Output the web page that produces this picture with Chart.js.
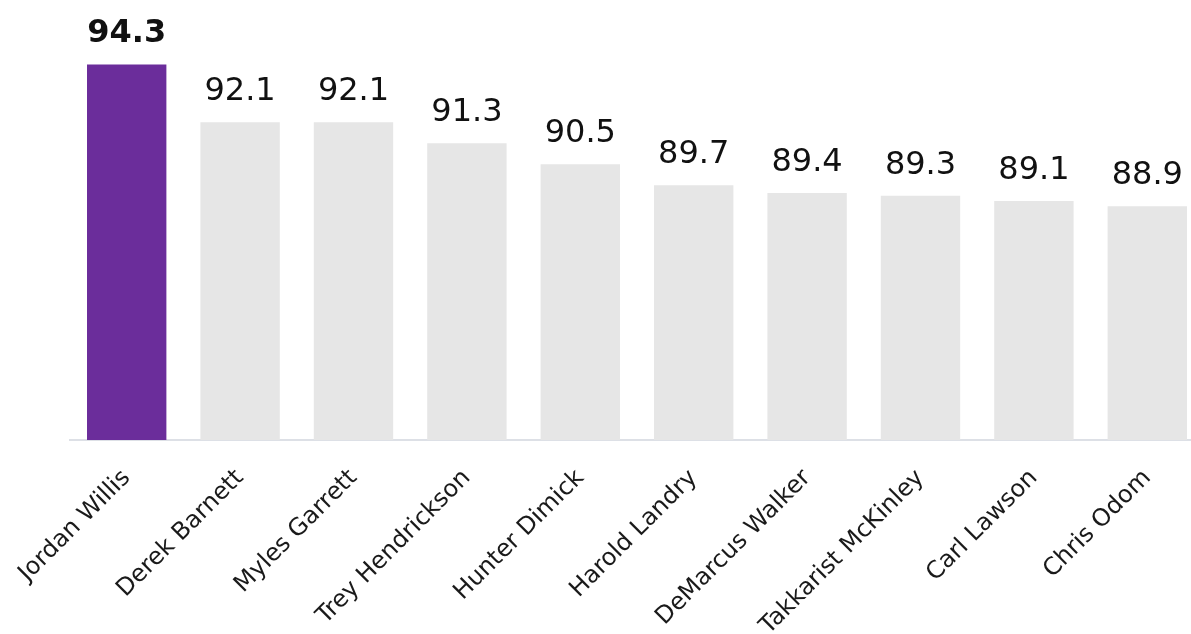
<!DOCTYPE html>
<html>
<head>
<meta charset="utf-8">
<script src="https://cdn.jsdelivr.net/npm/chart.js@4/dist/chart.umd.min.js"></script>
<style>
  html, body { margin: 0; padding: 0; background: #fff; overflow: hidden; }
  #wrap { width: 1204px; height: 634px; }
</style>
</head>
<body>
<div id="wrap"><canvas id="chartPlace" width="1204" height="634"></canvas></div>
<script>
var arrNames = ['Jordan Willis','Derek Barnett','Myles Garrett','Trey Hendrickson','Hunter Dimick',
	'Harold Landry','DeMarcus Walker','Takkarist McKinley','Carl Lawson','Chris Odom'];
var arrGrades = [94.3, 92.1, 92.1, 91.3, 90.5, 89.7, 89.4, 89.3, 89.1, 88.9];
var arrColors = ['#6b2d9b','#e6e6e6','#e6e6e6','#e6e6e6','#e6e6e6','#e6e6e6','#e6e6e6','#e6e6e6','#e6e6e6','#e6e6e6'];

/* labels above bars, first one bold */
var valueLabels = {
	id: 'valueLabels',
	afterDatasetsDraw: function(chart) {
		var ctx = chart.ctx;
		var meta = chart.getDatasetMeta(0);
		ctx.save();
		ctx.textAlign = 'center';
		ctx.textBaseline = 'alphabetic';
		ctx.fillStyle = '#111';
		for (var x = 0; x < meta.data.length; x++) {
			var bar = meta.data[x];
			ctx.font = (x == 0 ? 'bold ' : '') + '32px "DejaVu Sans"';
			ctx.fillText(arrGrades[x].toFixed(1), bar.x, bar.y - 22);
		}
		ctx.restore();
	}
};

var chartPlace = document.getElementById('chartPlace').getContext('2d');
var chartGrades = new Chart(chartPlace, {
	type: 'bar',
	data: {
		labels: arrNames,
		datasets: [{
			data: arrGrades,
			backgroundColor: arrColors,
			barPercentage: 0.7,
			categoryPercentage: 1.0
		}]
	},
	options: {
		responsive: false,
		animation: false,
		layout: { padding: { left: 70, right: 0, top: 46, bottom: 0 } },
		plugins: {
			legend: { display: false },
			tooltip: { enabled: false }
		},
		scales: {
			y: {
				display: false,
				min: 80,
				max: 95
			},
			x: {
				grid: { display: false },
				border: { display: true, color: '#dde0e6', width: 2 },
				ticks: {
					minRotation: 45,
					maxRotation: 45,
					padding: 16,
					color: '#1a1a1a',
					font: { family: 'DejaVu Sans', size: 24 }
				},
				afterFit: function(scale) { scale.height = 194; }
			}
		}
	},
	plugins: [valueLabels]
});
</script>
</body>
</html>
